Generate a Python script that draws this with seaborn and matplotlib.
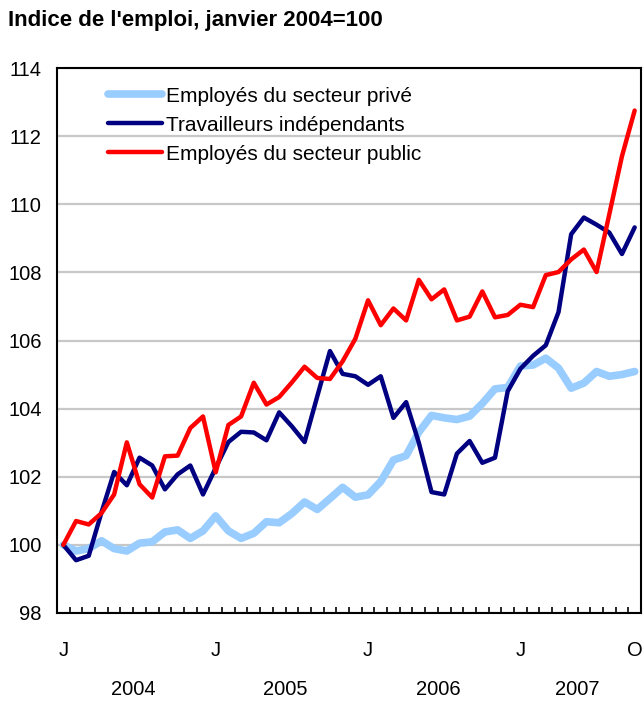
import numpy as np
import pandas as pd
import matplotlib
matplotlib.use('Agg')
import matplotlib.pyplot as plt
import seaborn as sns

sns.set_theme(style='white')
plt.rcParams['font.family'] = ['Liberation Sans', 'DejaVu Sans']
plt.rcParams['text.color'] = 'black'
plt.rcParams['xtick.color'] = 'black'
plt.rcParams['ytick.color'] = 'black'

# Indice de l'emploi, janvier 2004 = 100 (mensuel, janv. 2004 - oct. 2007)
prive = [100.0, 99.82, 99.89, 100.12, 99.89, 99.82, 100.05, 100.09, 100.38, 100.44,
         100.19, 100.41, 100.85, 100.41, 100.19, 100.34, 100.68, 100.65, 100.92, 101.26,
         101.04, 101.36, 101.69, 101.40, 101.47, 101.86, 102.49, 102.62, 103.31, 103.80,
         103.73, 103.68, 103.78, 104.15, 104.58, 104.62, 105.25, 105.28, 105.48, 105.19,
         104.60, 104.75, 105.09, 104.95, 105.00, 105.09]
independants = [100.0, 99.55, 99.68, 100.95, 102.14, 101.75, 102.56, 102.33, 101.63, 102.07,
                102.33, 101.48, 102.26, 103.02, 103.32, 103.30, 103.07, 103.89, 103.48, 103.02,
                104.36, 105.69, 105.02, 104.95, 104.70, 104.95, 103.73, 104.19, 103.00, 101.55,
                101.48, 102.68, 103.05, 102.41, 102.56, 104.51, 105.17, 105.55, 105.86, 106.83,
                109.12, 109.61, 109.40, 109.17, 108.54, 109.32]
public = [100.0, 100.70, 100.60, 100.93, 101.48, 103.01, 101.78, 101.39, 102.60, 102.62,
          103.43, 103.77, 102.13, 103.52, 103.77, 104.76, 104.12, 104.34, 104.77, 105.23,
          104.90, 104.87, 105.39, 106.05, 107.18, 106.45, 106.94, 106.59, 107.78, 107.21,
          107.50, 106.59, 106.70, 107.44, 106.68, 106.75, 107.05, 106.98, 107.92, 108.01,
          108.38, 108.67, 108.01, 109.70, 111.41, 112.75]

series = ['Employés du secteur privé', 'Travailleurs indépendants', 'Employés du secteur public']
couleurs = ['#99CCFF', '#000080', '#FF0000']
epaisseurs = [5.5, 3.2, 3.2]

lettres = {1: 'J', 10: 'O'}
dates = pd.date_range('2004-01-01', periods=len(prive), freq='MS')
df = pd.DataFrame({'mois': np.arange(len(dates)), 'date': dates,
                   series[0]: prive, series[1]: independants, series[2]: public})

fig = plt.figure(figsize=(6.44, 7.01), dpi=100)
ax = fig.add_axes([57 / 644, 1 - 613 / 701, 584 / 644, 545 / 701])

for s, c, lw in zip(series, couleurs, epaisseurs):
    sns.lineplot(data=df, x='mois', y=s, color=c, linewidth=lw, label=s, ax=ax)

ax.set_xlim(-0.5, len(df) - 0.5)
ax.set_ylim(98, 114)
ax.set_yticks(range(98, 115, 2))
ax.tick_params(axis='y', length=0, pad=11, labelsize=14.5, colors='black')

# J pour chaque janvier, O pour le dernier mois (octobre)
repere = df[(df.date.dt.month == 1) | (df.index == len(df) - 1)]
ax.set_xticks(repere.mois, [lettres[m] for m in repere.date.dt.month])
ax.tick_params(axis='x', which='major', length=0, pad=20, labelsize=14.5, colors='black')
ax.set_xticks(np.arange(0.5, len(df) - 1, 1), minor=True)
ax.tick_params(axis='x', which='minor', direction='in', length=4.3, width=1.2,
               color='black', bottom=True)

for annee, grp in df.groupby(df.date.dt.year):
    ax.text(grp.mois.mean(), -0.14, str(annee), transform=ax.get_xaxis_transform(),
            ha='center', va='center', fontsize=14.5, color='black')

ax.grid(axis='y', color='#C8C8C8', linewidth=1.6)
ax.set_axisbelow(True)
for sp in ax.spines.values():
    sp.set_color('black')
    sp.set_linewidth(1.5)
ax.set_xlabel('')
ax.set_ylabel('')

ax.legend(loc='upper left', bbox_to_anchor=(0.087, 0.966), frameon=False, fontsize=15,
          handlelength=2.6, handletextpad=0.2, labelspacing=0.48, borderpad=0,
          borderaxespad=0)

fig.text(8 / 644, 1 - 26 / 701, "Indice de l'emploi, janvier 2004=100",
         fontsize=16, fontweight='bold', va='baseline', color='black')

fig.savefig('out.png', dpi=100)
